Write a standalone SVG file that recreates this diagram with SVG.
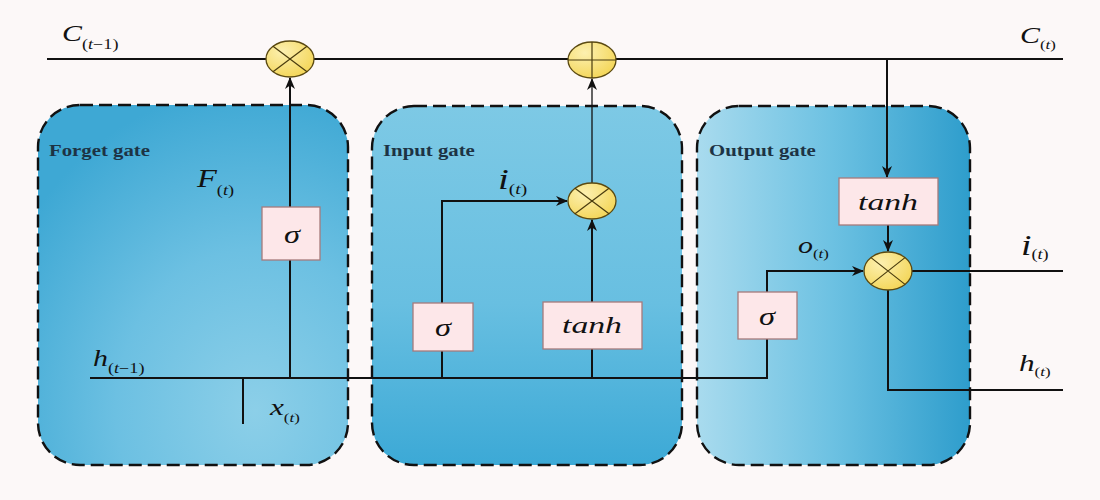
<svg xmlns="http://www.w3.org/2000/svg" width="1100" height="500" viewBox="0 0 1100 500">
  <defs>
    <style>
      .gate { stroke: #111; stroke-width: 2.4; stroke-dasharray: 13 6; }
      .gtitle { font-family: "Liberation Serif", serif; font-size: 16px; font-weight: bold; fill: #1d3344; }
      .wire { fill: none; stroke: #111; stroke-width: 2; }
      .thin { fill: none; stroke: #111; stroke-width: 1.3; }
      .op { fill: url(#opFill); stroke: #5b4a12; stroke-width: 1.3; }
      .cross { stroke: #4a3c0e; stroke-width: 1.2; }
      .act { fill: #fde7e9; stroke: #a67a7c; stroke-width: 1.3; }
      .m { font-family: "Liberation Serif", serif; font-style: italic; fill: #111; }
      .up { font-style: normal; }
    </style>
    <radialGradient id="forgetFill" cx="0.7" cy="0.85" r="0.9">
      <stop offset="0" stop-color="#8ccfe8"/>
      <stop offset="0.5" stop-color="#6cc0e2"/>
      <stop offset="1" stop-color="#3ea8d4"/>
    </radialGradient>
    <linearGradient id="inputFill" x1="0" y1="0" x2="0" y2="1">
      <stop offset="0" stop-color="#7dc9e5"/>
      <stop offset="0.55" stop-color="#68bfe1"/>
      <stop offset="1" stop-color="#3ca9d6"/>
    </linearGradient>
    <linearGradient id="outputFill" x1="0" y1="0" x2="1" y2="0">
      <stop offset="0" stop-color="#a9dbee"/>
      <stop offset="0.5" stop-color="#6cc1e2"/>
      <stop offset="1" stop-color="#2e9dcc"/>
    </linearGradient>
    <radialGradient id="opFill" cx="0.35" cy="0.3" r="0.8">
      <stop offset="0" stop-color="#fcf0b0"/>
      <stop offset="1" stop-color="#f3d452"/>
    </radialGradient>
    <marker id="arrow" viewBox="0 0 12 10" refX="11" refY="5" markerWidth="12" markerHeight="10" markerUnits="userSpaceOnUse" orient="auto">
      <path d="M0,0 L12,5 L0,10 L3.5,5 z" fill="#111"/>
    </marker>
  </defs>

  <rect width="1100" height="500" fill="#fcf8f8"/>

  <!-- gate regions -->
  <g id="forget-gate">
    <rect class="gate" x="38" y="105" width="310" height="360" rx="42" fill="url(#forgetFill)"/>
    <text class="gtitle" transform="translate(49,156) scale(1.3,1)">Forget gate</text>
  </g>
  <g id="input-gate">
    <rect class="gate" x="372" y="106" width="310" height="359" rx="42" fill="url(#inputFill)"/>
    <text class="gtitle" transform="translate(383,156) scale(1.3,1)">Input gate</text>
  </g>
  <g id="output-gate">
    <rect class="gate" x="697" y="106" width="273" height="359" rx="42" fill="url(#outputFill)"/>
    <text class="gtitle" transform="translate(709,156) scale(1.3,1)">Output gate</text>
  </g>

  <!-- connectors -->
  <g id="connectors">
    <path class="wire" d="M47,59 H1063"/>
    <path class="wire" d="M290,378 V78" marker-end="url(#arrow)"/>
    <path class="wire" d="M90,378 H767 V271 H863" marker-end="url(#arrow)"/>
    <path class="wire" d="M243,378 V424"/>
    <path class="wire" d="M442,378 V201 H567" marker-end="url(#arrow)"/>
    <path class="wire" d="M592,378 V220" marker-end="url(#arrow)"/>
    <path class="thin" d="M592,183 V79" marker-end="url(#arrow)"/>
    <path class="wire" d="M887,59 V177" marker-end="url(#arrow)"/>
    <path class="wire" d="M888,225 V251" marker-end="url(#arrow)"/>
    <path class="wire" d="M912,271 H1063"/>
    <path class="wire" d="M888,290 V390 H1063"/>
  </g>

  <!-- pointwise operations -->
  <g id="forget-mul">
    <ellipse class="op" cx="290" cy="59" rx="24" ry="18"/>
    <path class="cross" d="M273,46.3 L307,71.7 M273,71.7 L307,46.3"/>
  </g>
  <g id="cell-add">
    <ellipse class="op" cx="592" cy="60" rx="24" ry="18"/>
    <path class="cross" d="M568,60 H616 M592,42 V78"/>
  </g>
  <g id="input-mul">
    <ellipse class="op" cx="592" cy="201" rx="24" ry="18"/>
    <path class="cross" d="M575,188.3 L609,213.7 M575,213.7 L609,188.3"/>
  </g>
  <g id="output-mul">
    <ellipse class="op" cx="888" cy="271" rx="24" ry="19"/>
    <path class="cross" d="M871,257.6 L905,284.4 M871,284.4 L905,257.6"/>
  </g>

  <!-- activation layers -->
  <g id="forget-sigma">
    <rect class="act" x="262" y="207" width="58" height="53"/>
    <text class="m" transform="translate(292,243) scale(1.25,1)" font-size="26" text-anchor="middle">σ</text>
  </g>
  <g id="input-sigma">
    <rect class="act" x="413" y="303" width="60" height="48"/>
    <text class="m" transform="translate(443,336) scale(1.25,1)" font-size="26" text-anchor="middle">σ</text>
  </g>
  <g id="input-tanh">
    <rect class="act" x="543" y="302" width="99" height="47"/>
    <text class="m" x="562" y="333" font-size="24" textLength="60" lengthAdjust="spacingAndGlyphs">tanh</text>
  </g>
  <g id="output-tanh">
    <rect class="act" x="839" y="178" width="99" height="47"/>
    <text class="m" x="858" y="210" font-size="24" textLength="60" lengthAdjust="spacingAndGlyphs">tanh</text>
  </g>
  <g id="output-sigma">
    <rect class="act" x="738" y="292" width="59" height="47"/>
    <text class="m" transform="translate(767,325) scale(1.25,1)" font-size="26" text-anchor="middle">σ</text>
  </g>

  <!-- signal labels -->
  <g id="labels">
    <text class="m" transform="translate(62,41) scale(1.3,1)"><tspan font-size="23">C</tspan><tspan font-size="14" dy="8" class="up">(</tspan><tspan font-size="14">t</tspan><tspan font-size="14" class="up">−1)</tspan></text>
    <text class="m" transform="translate(1020,43) scale(1.3,1)"><tspan font-size="23">C</tspan><tspan font-size="13" dy="6" class="up">(</tspan><tspan font-size="13">t</tspan><tspan font-size="13" class="up">)</tspan></text>
    <text class="m" transform="translate(197,187) scale(1.3,1)"><tspan font-size="25">F</tspan><tspan font-size="14" dy="8" class="up">(</tspan><tspan font-size="14">t</tspan><tspan font-size="14" class="up">)</tspan></text>
    <text class="m" transform="translate(498,189) scale(1.3,1)"><tspan font-size="30">i</tspan><tspan font-size="15" dy="5" class="up">(</tspan><tspan font-size="15">t</tspan><tspan font-size="15" class="up">)</tspan></text>
    <text class="m" transform="translate(798,253) scale(1.3,1)"><tspan font-size="23">o</tspan><tspan font-size="13" dy="5" class="up">(</tspan><tspan font-size="13">t</tspan><tspan font-size="13" class="up">)</tspan></text>
    <text class="m" transform="translate(1021,255) scale(1.3,1)"><tspan font-size="29">i</tspan><tspan font-size="14" dy="4" class="up">(</tspan><tspan font-size="14">t</tspan><tspan font-size="14" class="up">)</tspan></text>
    <text class="m" transform="translate(1019,371) scale(1.3,1)"><tspan font-size="24">h</tspan><tspan font-size="13" dy="5" class="up">(</tspan><tspan font-size="13">t</tspan><tspan font-size="13" class="up">)</tspan></text>
    <text class="m" transform="translate(93,366) scale(1.3,1)"><tspan font-size="23">h</tspan><tspan font-size="14" dy="7" class="up">(</tspan><tspan font-size="14">t</tspan><tspan font-size="14" class="up">−1)</tspan></text>
    <text class="m" transform="translate(270,415) scale(1.3,1)"><tspan font-size="24">x</tspan><tspan font-size="13" dy="7" class="up">(</tspan><tspan font-size="13">t</tspan><tspan font-size="13" class="up">)</tspan></text>
  </g>
</svg>
